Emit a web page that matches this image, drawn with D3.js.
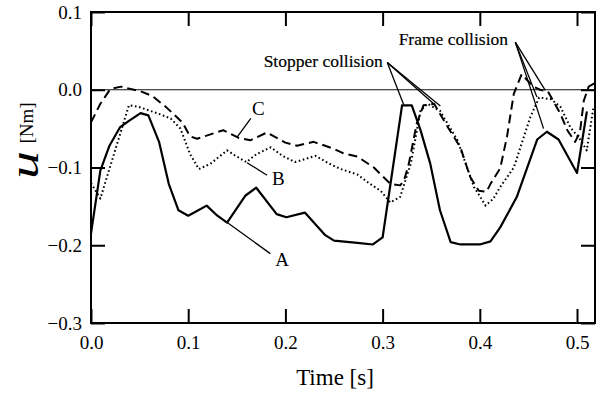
<!DOCTYPE html>
<html>
<head>
<meta charset="utf-8">
<script src="https://cdn.jsdelivr.net/npm/d3@7"></script>
<style>
  html, body { margin: 0; padding: 0; background: #fff; }
  svg { display: block; }
  text { font-family: "Liberation Serif", "Times New Roman", serif; fill: #000; }
</style>
</head>
<body>
<svg id="chart" width="602" height="395"></svg>
<script>
// Joint torque u [Nm] over time [s] for three control cases
const timeA = [0.000, 0.0096, 0.019, 0.030, 0.039, 0.051, 0.059, 0.070, 0.080, 0.090, 0.100, 0.109, 0.119, 0.130, 0.140, 0.159, 0.170, 0.191, 0.201, 0.220, 0.241, 0.250, 0.274, 0.290, 0.300, 0.320, 0.330, 0.339, 0.349, 0.359, 0.370, 0.380, 0.400, 0.411, 0.421, 0.438, 0.459, 0.469, 0.481, 0.500, 0.510];
const torqueA = [-0.185, -0.104, -0.072, -0.048, -0.040, -0.030, -0.033, -0.067, -0.121, -0.155, -0.162, -0.156, -0.149, -0.162, -0.171, -0.136, -0.126, -0.160, -0.164, -0.158, -0.187, -0.194, -0.197, -0.199, -0.190, -0.020, -0.020, -0.052, -0.095, -0.155, -0.196, -0.199, -0.199, -0.195, -0.177, -0.138, -0.064, -0.054, -0.064, -0.107, -0.029];

const timeB = [0.000, 0.0096, 0.039, 0.049, 0.070, 0.082, 0.092, 0.102, 0.111, 0.123, 0.140, 0.150, 0.160, 0.170, 0.185, 0.197, 0.210, 0.231, 0.245, 0.257, 0.274, 0.287, 0.298, 0.308, 0.318, 0.329, 0.339, 0.346, 0.359, 0.377, 0.394, 0.406, 0.414, 0.421, 0.435, 0.452, 0.461, 0.473, 0.483, 0.493, 0.504, 0.510, 0.517];
const torqueB = [-0.120, -0.140, -0.020, -0.022, -0.031, -0.037, -0.050, -0.083, -0.102, -0.095, -0.078, -0.086, -0.093, -0.083, -0.074, -0.085, -0.093, -0.085, -0.095, -0.102, -0.109, -0.121, -0.130, -0.145, -0.138, -0.095, -0.027, -0.018, -0.027, -0.065, -0.125, -0.149, -0.140, -0.125, -0.100, -0.035, -0.010, -0.012, -0.022, -0.048, -0.065, -0.078, -0.022];

const timeC = [0.000, 0.0096, 0.020, 0.031, 0.051, 0.063, 0.077, 0.094, 0.102, 0.109, 0.119, 0.136, 0.152, 0.164, 0.181, 0.200, 0.212, 0.229, 0.250, 0.260, 0.274, 0.291, 0.308, 0.318, 0.322, 0.327, 0.335, 0.342, 0.353, 0.366, 0.380, 0.390, 0.399, 0.407, 0.411, 0.421, 0.428, 0.435, 0.443, 0.455, 0.462, 0.470, 0.483, 0.490, 0.498, 0.503, 0.507, 0.512, 0.519];
const torqueC = [-0.042, -0.018, 0.001, 0.004, -0.002, -0.008, -0.022, -0.042, -0.060, -0.063, -0.059, -0.052, -0.062, -0.065, -0.055, -0.068, -0.072, -0.067, -0.076, -0.082, -0.086, -0.100, -0.121, -0.123, -0.117, -0.095, -0.044, -0.020, -0.018, -0.046, -0.074, -0.112, -0.130, -0.131, -0.121, -0.101, -0.060, -0.005, 0.020, 0.004, 0.000, -0.002, -0.031, -0.052, -0.067, -0.055, -0.014, 0.004, 0.009];

const xTicks = [0.0, 0.1, 0.2, 0.3, 0.4, 0.5];
const yTicks = [-0.3, -0.2, -0.1, 0.0, 0.1];

// Curve labels: text position and leader line, in data units
const curveLabels = [
  { name: "A", at: [0.1965, -0.218], from: [0.1845, -0.2108], to: [0.1405, -0.171] },
  { name: "B", at: [0.1927, -0.114], from: [0.1811, -0.110], to: [0.1605, -0.0938] },
  { name: "C", at: [0.1721, -0.024], from: [0.1644, -0.0369], to: [0.1505, -0.0607] }
];
const callouts = [
  { text: "Stopper collision", at: [0.1776, 0.0287], origin: [0.3048, 0.0351],
    targets: [[0.3216, -0.0189], [0.3525, -0.018], [0.3594, -0.0208]] },
  { text: "Frame collision", at: [0.3165, 0.0576], origin: [0.4365, 0.0612],
    targets: [[0.4656, -0.050], [0.4588, -0.0095], [0.4674, -0.0009]] }
];

const svg = d3.select("#chart");
const plotLeft = 91, plotRight = 595, plotTop = 12, plotBottom = 323;

const x = d3.scaleLinear().domain([0, 0.5185]).range([plotLeft, plotRight]);
const y = d3.scaleLinear().domain([-0.3, 0.1]).range([plotBottom, plotTop]);

const fmt = d3.format(".1f");
const tickLen = 14;

// Zero reference line
svg.append("line")
  .attr("x1", plotLeft).attr("x2", plotRight)
  .attr("y1", y(0)).attr("y2", y(0))
  .attr("stroke", "#111").attr("stroke-width", 1.1);

// Axes with inward ticks on all four sides
const styleAxis = g => {
  g.attr("font-family", null);
  g.select(".domain").remove();
  g.selectAll(".tick line").attr("stroke", "#000").attr("stroke-width", 2);
  g.selectAll(".tick text").style("font-size", "19px").attr("fill", "#000");
};
svg.append("g").attr("transform", `translate(0,${plotBottom})`)
  .call(d3.axisBottom(x).tickValues(xTicks).tickFormat(fmt).tickSizeInner(-tickLen).tickSizeOuter(0).tickPadding(13))
  .call(styleAxis);
svg.append("g").attr("transform", `translate(0,${plotTop})`)
  .call(d3.axisTop(x).tickValues(xTicks).tickFormat("").tickSizeInner(-tickLen).tickSizeOuter(0))
  .call(styleAxis);
svg.append("g").attr("transform", `translate(${plotLeft},0)`)
  .call(d3.axisLeft(y).tickValues(yTicks).tickFormat(fmt).tickSizeInner(-tickLen).tickSizeOuter(0).tickPadding(9))
  .call(styleAxis);
svg.append("g").attr("transform", `translate(${plotRight},0)`)
  .call(d3.axisRight(y).tickValues(yTicks).tickFormat("").tickSizeInner(-tickLen).tickSizeOuter(0))
  .call(styleAxis);

// Plot frame
svg.append("rect")
  .attr("x", plotLeft).attr("y", plotTop)
  .attr("width", plotRight - plotLeft).attr("height", plotBottom - plotTop)
  .attr("fill", "none").attr("stroke", "#000").attr("stroke-width", 2);

// Series lines
const line = d3.line().x(d => x(d[0])).y(d => y(d[1]));
const series = [
  { t: timeB, u: torqueB, dash: "1.6,2.6", width: 2, cap: "butt" },
  { t: timeC, u: torqueC, dash: "9,5", width: 2, cap: "butt" },
  { t: timeA, u: torqueA, dash: null, width: 2.2, cap: "round" }
];
series.forEach(s => {
  svg.append("path")
    .datum(d3.zip(s.t, s.u))
    .attr("d", line)
    .attr("fill", "none")
    .attr("stroke", "#000")
    .attr("stroke-width", s.width)
    .attr("stroke-linejoin", "round")
    .attr("stroke-linecap", s.cap)
    .attr("stroke-dasharray", s.dash);
});

// Curve labels with leader lines
curveLabels.forEach(c => {
  svg.append("line")
    .attr("x1", x(c.from[0])).attr("y1", y(c.from[1]))
    .attr("x2", x(c.to[0])).attr("y2", y(c.to[1]))
    .attr("stroke", "#000").attr("stroke-width", 1.3);
  svg.append("text")
    .attr("x", x(c.at[0])).attr("y", y(c.at[1]))
    .attr("text-anchor", "middle").attr("dominant-baseline", "central")
    .style("font-size", "19px")
    .text(c.name);
});

// Collision callouts
callouts.forEach(c => {
  c.targets.forEach(p => {
    svg.append("line")
      .attr("x1", x(c.origin[0])).attr("y1", y(c.origin[1]))
      .attr("x2", x(p[0])).attr("y2", y(p[1]))
      .attr("stroke", "#000").attr("stroke-width", 1.3);
  });
  svg.append("text")
    .attr("x", x(c.at[0])).attr("y", y(c.at[1]))
    .style("font-size", "17.5px")
    .style("stroke", "#000").style("stroke-width", 0.2)
    .text(c.text);
});

// Axis titles
svg.append("text")
  .attr("x", 335).attr("y", 385)
  .attr("text-anchor", "middle")
  .style("font-size", "23px")
  .text("Time [s]");

svg.append("text")
  .attr("transform", "translate(38,165) rotate(-90)")
  .attr("text-anchor", "middle")
  .attr("textLength", 28).attr("lengthAdjust", "spacingAndGlyphs")
  .style("font-size", "40px").style("font-style", "italic")
  .text("u");
svg.append("text")
  .attr("transform", "translate(33,123) rotate(-90)")
  .attr("text-anchor", "middle")
  .style("font-size", "19px")
  .text("[Nm]");
</script>
</body>
</html>
